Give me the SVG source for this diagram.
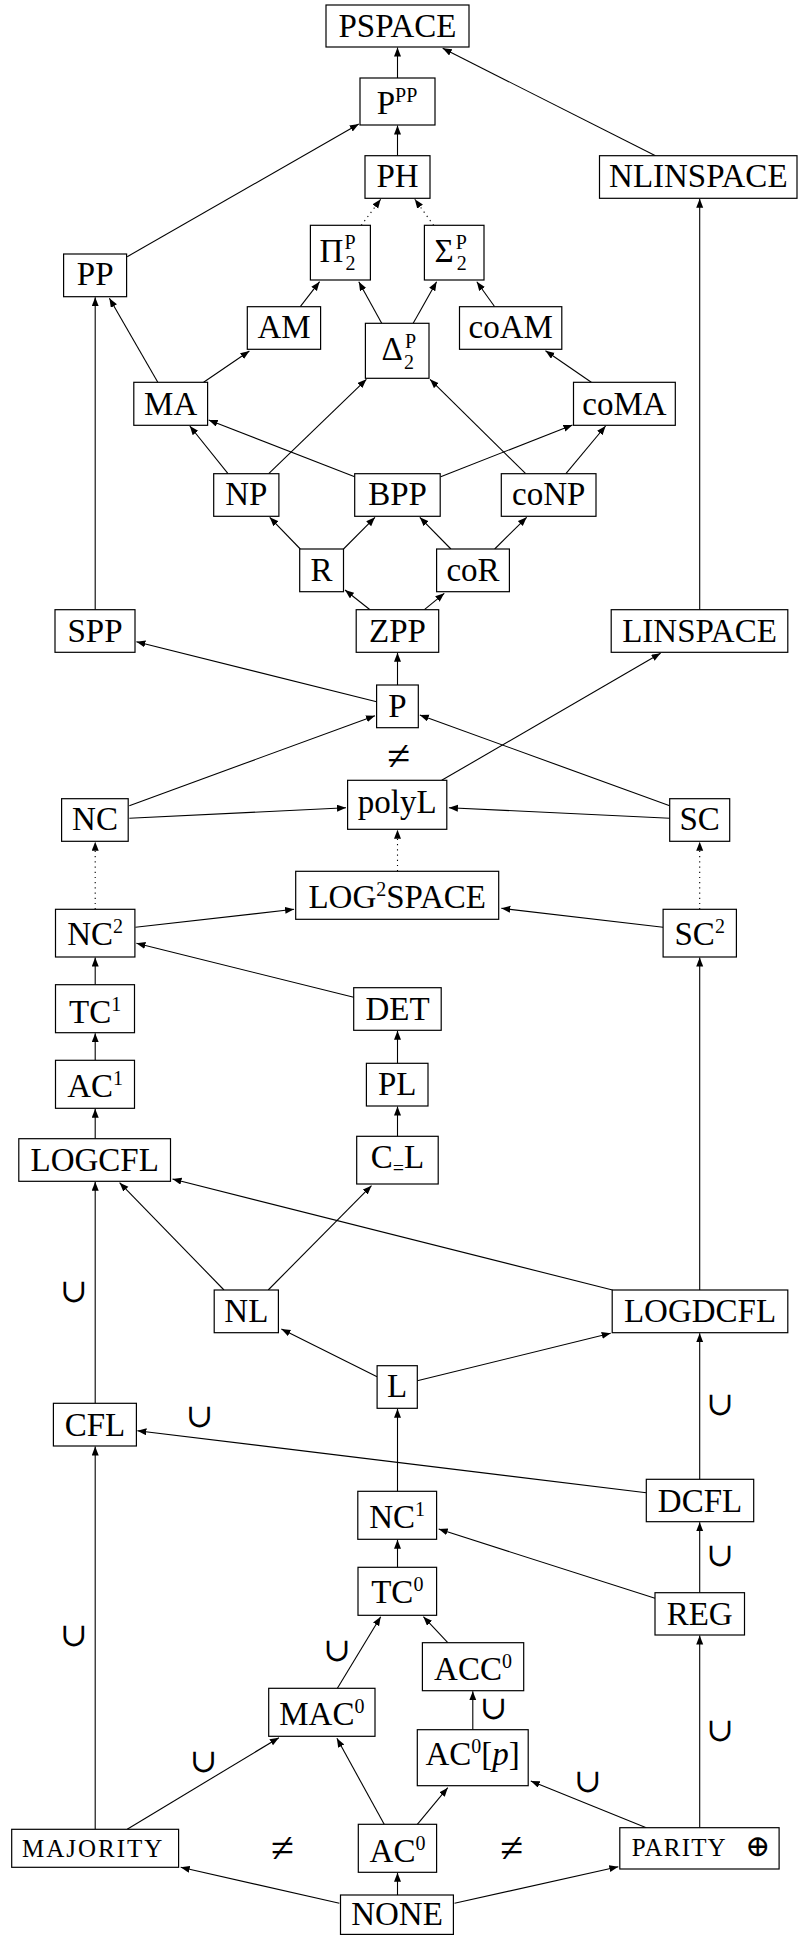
<svg xmlns="http://www.w3.org/2000/svg" width="798" height="1935" viewBox="0 0 798 1935">
<style>
.n rect{fill:#fff;stroke:#000;stroke-width:1.2}
text{font-family:"Liberation Serif","DejaVu Serif",serif;font-size:33px;fill:#000}
.t{text-anchor:middle}
.st{text-anchor:start}
.sup{font-size:20px}
.sc{font-size:25px}
.m{text-anchor:middle}
.ne{font-size:42px}
.cup{font-family:"DejaVu Serif",serif;font-size:33px}
.e line{stroke:#000;stroke-width:1.1;fill:none}
.e line.d{stroke-dasharray:1.2 4}
.e line.a{marker-end:url(#ah)}
</style>
<defs>
<marker id="ah" markerWidth="10" markerHeight="8" refX="9" refY="3.5" orient="auto" markerUnits="userSpaceOnUse"><path d="M0,0 L9,3.5 L0,7 z" fill="#000"/></marker>
</defs>
<g id="connectors" class="e">
<line class="a" x1="397.5" y1="78" x2="397.5" y2="47.5"/>
<line class="a" x1="655.5" y1="155.7" x2="442.7" y2="48.3"/>
<line class="a" x1="397.5" y1="155.7" x2="397.5" y2="125.5"/>
<line class="a" x1="127.2" y1="256.7" x2="358.8" y2="124"/>
<line class="a d" x1="361.3" y1="225.3" x2="380.7" y2="199.3"/>
<line class="a d" x1="433.6" y1="225.3" x2="414.8" y2="199.3"/>
<line class="a" x1="699.7" y1="609.7" x2="699.7" y2="198.8"/>
<line class="a" x1="95.2" y1="609.7" x2="95.2" y2="297.2"/>
<line class="a" x1="157.8" y1="382.3" x2="109.4" y2="298.3"/>
<line class="a" x1="300.3" y1="306.7" x2="319.6" y2="281.7"/>
<line class="a" x1="381.7" y1="323.3" x2="358.8" y2="281.7"/>
<line class="a" x1="413.2" y1="323.3" x2="436.6" y2="281.7"/>
<line class="a" x1="494.7" y1="306.7" x2="476.8" y2="281.7"/>
<line class="a" x1="203.6" y1="382.3" x2="249.4" y2="351"/>
<line class="a" x1="591.3" y1="382.3" x2="545.5" y2="350.7"/>
<line class="a" x1="228" y1="473.7" x2="189.8" y2="426"/>
<line class="a" x1="268.7" y1="473.7" x2="366.4" y2="379.3"/>
<line class="a" x1="354.7" y1="476.7" x2="208.7" y2="420"/>
<line class="a" x1="440.7" y1="476.7" x2="572.5" y2="425"/>
<line class="a" x1="525.7" y1="473.7" x2="430" y2="379.3"/>
<line class="a" x1="565.9" y1="473.7" x2="605.6" y2="426"/>
<line class="a" x1="300.3" y1="549" x2="269.7" y2="517.3"/>
<line class="a" x1="343.5" y1="549" x2="375" y2="517.3"/>
<line class="a" x1="450.9" y1="549" x2="419.8" y2="517.3"/>
<line class="a" x1="494.7" y1="549" x2="526.7" y2="517.3"/>
<line class="a" x1="370" y1="609.7" x2="345" y2="590"/>
<line class="a" x1="424.4" y1="609.7" x2="444.3" y2="593.3"/>
<line class="a" x1="397.5" y1="685" x2="397.5" y2="652.8"/>
<line class="a" x1="376.6" y1="701.7" x2="136.4" y2="641.7"/>
<line class="a" x1="441.7" y1="780.3" x2="660.6" y2="653.3"/>
<line class="a" x1="129.3" y1="805.7" x2="375" y2="715.7"/>
<line class="a" x1="669.7" y1="805.7" x2="419.8" y2="715"/>
<line class="a" x1="129.3" y1="818.3" x2="346" y2="807.7"/>
<line class="a" x1="669.7" y1="818.3" x2="448.9" y2="807.7"/>
<line class="a d" x1="397.5" y1="871.3" x2="397.5" y2="829.8"/>
<line class="a d" x1="95.2" y1="909.3" x2="95.2" y2="841.8"/>
<line class="a d" x1="699.7" y1="909.3" x2="699.7" y2="841.8"/>
<line class="a" x1="135.4" y1="927.3" x2="294.1" y2="909.3"/>
<line class="a" x1="663.1" y1="927.3" x2="501.3" y2="908.3"/>
<line class="a" x1="353.7" y1="997.3" x2="136.4" y2="943.3"/>
<line class="a" x1="95.2" y1="984.7" x2="95.2" y2="957.5"/>
<line class="a" x1="95.2" y1="1060.3" x2="95.2" y2="1033.2"/>
<line class="a" x1="95.2" y1="1138.7" x2="95.2" y2="1108.8"/>
<line class="a" x1="397.5" y1="1063.3" x2="397.5" y2="1030.8"/>
<line class="a" x1="397.5" y1="1136.3" x2="397.5" y2="1106.5"/>
<line class="a" x1="95.2" y1="1403.3" x2="95.2" y2="1181.8"/>
<line class="a" x1="224" y1="1290" x2="119.6" y2="1182.7"/>
<line class="a" x1="268.2" y1="1290" x2="371.5" y2="1185.7"/>
<line class="a" x1="612.5" y1="1290" x2="172.5" y2="1179"/>
<line class="a" x1="699.7" y1="1290" x2="699.7" y2="957.5"/>
<line class="a" x1="377.1" y1="1376.7" x2="281.4" y2="1329"/>
<line class="a" x1="417.3" y1="1380.7" x2="610.7" y2="1333.3"/>
<line class="a" x1="397.5" y1="1491.3" x2="397.5" y2="1408.8"/>
<line class="a" x1="646.3" y1="1492.7" x2="137.4" y2="1430.7"/>
<line class="a" x1="699.7" y1="1479.3" x2="699.7" y2="1333.2"/>
<line class="a" x1="397.5" y1="1567.3" x2="397.5" y2="1539.8"/>
<line class="a" x1="655" y1="1598.3" x2="438.7" y2="1529"/>
<line class="a" x1="699.7" y1="1592.7" x2="699.7" y2="1522.2"/>
<line class="a" x1="95.2" y1="1829.3" x2="95.2" y2="1446.5"/>
<line class="a" x1="337.4" y1="1688.3" x2="380.7" y2="1616.7"/>
<line class="a" x1="447.8" y1="1642.7" x2="423.4" y2="1616.7"/>
<line class="a" x1="472.8" y1="1729.7" x2="472.8" y2="1691.2"/>
<line class="a" x1="699.7" y1="1827.7" x2="699.7" y2="1635.5"/>
<line class="a" x1="127.2" y1="1829.3" x2="278.9" y2="1737.7"/>
<line class="a" x1="384.2" y1="1824.3" x2="336.9" y2="1738.3"/>
<line class="a" x1="417.3" y1="1824.3" x2="447.8" y2="1787.7"/>
<line class="a" x1="646.3" y1="1827.7" x2="530.8" y2="1781"/>
<line class="a" x1="339.4" y1="1903.3" x2="180.7" y2="1867.3"/>
<line class="a" x1="397.5" y1="1895" x2="397.5" y2="1872.8"/>
<line class="a" x1="454.5" y1="1903.3" x2="618.3" y2="1866.7"/>
</g>
<g id="PSPACE" class="n"><rect x="326" y="5" width="143" height="42"/><text class="t" x="397.5" y="37.3">PSPACE</text></g>
<g id="PPP" class="n"><rect x="360" y="78" width="75" height="47"/><text class="t" x="397" y="114.3">P<tspan class="sup" dy="-12.6">PP</tspan></text></g>
<g id="PH" class="n"><rect x="365" y="155.7" width="65" height="42.6"/><text class="t" x="397.5" y="187.3">PH</text></g>
<g id="NLINSPACE" class="n"><rect x="599.5" y="155.7" width="197.5" height="42.6"/><text class="t" x="698.3" y="187.3">NLINSPACE</text></g>
<g id="Pi2P" class="n"><rect x="310.4" y="225.3" width="60" height="54.7"/><text class="st"><tspan x="319.5" y="261.7">Π</tspan><tspan class="sup" x="344.5" y="249">P</tspan><tspan class="sup" x="345.5" y="270">2</tspan></text></g>
<g id="Sigma2P" class="n"><rect x="424.4" y="225.3" width="59.6" height="54.7"/><text class="st"><tspan x="434.5" y="261.7">Σ</tspan><tspan class="sup" x="455.7" y="249">P</tspan><tspan class="sup" x="456.7" y="270">2</tspan></text></g>
<g id="PP" class="n"><rect x="63.6" y="254" width="63" height="42.7"/><text class="t" x="95.2" y="285">PP</text></g>
<g id="AM" class="n"><rect x="247.3" y="306.7" width="73.3" height="42.6"/><text class="t" x="284" y="338.3">AM</text></g>
<g id="coAM" class="n"><rect x="459.5" y="306.7" width="102.3" height="42.6"/><text class="t" x="510.7" y="338.3">coAM</text></g>
<g id="Delta2P" class="n"><rect x="365.4" y="323.3" width="63.6" height="55"/><text class="st"><tspan x="381.5" y="360">Δ</tspan><tspan class="sup" x="405" y="347.5">P</tspan><tspan class="sup" x="404" y="368.5">2</tspan></text></g>
<g id="MA" class="n"><rect x="133.8" y="382.3" width="73.8" height="43"/><text class="t" x="170.7" y="415">MA</text></g>
<g id="coMA" class="n"><rect x="573.5" y="382.3" width="101.8" height="43"/><text class="t" x="624.4" y="415">coMA</text></g>
<g id="NP" class="n"><rect x="213.7" y="473.7" width="65.2" height="42.6"/><text class="t" x="246.3" y="505">NP</text></g>
<g id="BPP" class="n"><rect x="354.7" y="473.7" width="85.5" height="42.6"/><text class="t" x="397.5" y="505">BPP</text></g>
<g id="coNP" class="n"><rect x="501.3" y="473.7" width="94.7" height="42.6"/><text class="t" x="548.7" y="505">coNP</text></g>
<g id="R" class="n"><rect x="299.7" y="549" width="43.8" height="42.7"/><text class="t" x="321.6" y="580.7">R</text></g>
<g id="coR" class="n"><rect x="436.6" y="549" width="72.8" height="42.7"/><text class="t" x="473" y="580.7">coR</text></g>
<g id="SPP" class="n"><rect x="55" y="609.7" width="80" height="42.6"/><text class="t" x="95" y="641.7">SPP</text></g>
<g id="ZPP" class="n"><rect x="356.2" y="609.7" width="82.5" height="42.6"/><text class="t" x="397.5" y="641.7">ZPP</text></g>
<g id="LINSPACE" class="n"><rect x="611.2" y="609.7" width="176.6" height="42.6"/><text class="t" x="699.5" y="641.7">LINSPACE</text></g>
<g id="P" class="n"><rect x="376.6" y="685" width="41.7" height="42.7"/><text class="t" x="397.5" y="716.7">P</text></g>
<g id="polyL" class="n"><rect x="347.6" y="780.3" width="99.2" height="49"/><text class="t" x="397.2" y="813.3">polyL</text></g>
<g id="NC" class="n"><rect x="61.6" y="798.7" width="66.6" height="42.6"/><text class="t" x="95" y="830">NC</text></g>
<g id="SC" class="n"><rect x="669.7" y="798.7" width="60" height="42.6"/><text class="t" x="699.7" y="830">SC</text></g>
<g id="LOG2SPACE" class="n"><rect x="295.7" y="871.3" width="203" height="48"/><text class="t" x="397.2" y="907.5">LOG<tspan class="sup" dy="-12">2</tspan><tspan dy="12">SPACE</tspan></text></g>
<g id="NC2" class="n"><rect x="55.5" y="909.3" width="79.4" height="47.7"/><text class="t" x="95.2" y="945">NC<tspan class="sup" dy="-12">2</tspan></text></g>
<g id="SC2" class="n"><rect x="663.1" y="909.3" width="73.3" height="47.7"/><text class="t" x="699.7" y="945">SC<tspan class="sup" dy="-12">2</tspan></text></g>
<g id="TC1" class="n"><rect x="55.5" y="984.7" width="79" height="48"/><text class="t" x="95.2" y="1022.7">TC<tspan class="sup" dy="-12">1</tspan></text></g>
<g id="DET" class="n"><rect x="353.7" y="987.7" width="87.5" height="42.6"/><text class="t" x="397.5" y="1020">DET</text></g>
<g id="AC1" class="n"><rect x="55.5" y="1060.3" width="79" height="48"/><text class="t" x="95.2" y="1097.3">AC<tspan class="sup" dy="-12">1</tspan></text></g>
<g id="PL" class="n"><rect x="366.4" y="1063.3" width="61.6" height="42.7"/><text class="t" x="397.2" y="1095">PL</text></g>
<g id="LOGCFL" class="n"><rect x="18.8" y="1138.7" width="151.7" height="42.6"/><text class="t" x="94.7" y="1170.7">LOGCFL</text></g>
<g id="CeqL" class="n"><rect x="356.7" y="1136.3" width="81.5" height="47.7"/><text class="t" x="397.5" y="1168.3">C<tspan class="sup" dy="7">=</tspan><tspan dy="-7">L</tspan></text></g>
<g id="NL" class="n"><rect x="214.2" y="1290" width="64.2" height="42.7"/><text class="t" x="246.3" y="1321.7">NL</text></g>
<g id="LOGDCFL" class="n"><rect x="612.2" y="1290" width="175.6" height="42.7"/><text class="t" x="700" y="1321.7">LOGDCFL</text></g>
<g id="L" class="n"><rect x="377.1" y="1365.7" width="40.2" height="42.6"/><text class="t" x="397.2" y="1397.3">L</text></g>
<g id="CFL" class="n"><rect x="53.4" y="1403.3" width="83" height="42.7"/><text class="t" x="94.9" y="1435.7">CFL</text></g>
<g id="DCFL" class="n"><rect x="646.3" y="1479.3" width="107.4" height="42.4"/><text class="t" x="700" y="1511.7">DCFL</text></g>
<g id="NC1" class="n"><rect x="357.8" y="1491.3" width="78.8" height="48"/><text class="t" x="397.2" y="1528.3">NC<tspan class="sup" dy="-12">1</tspan></text></g>
<g id="TC0" class="n"><rect x="358" y="1567.3" width="78.6" height="48"/><text class="t" x="397.3" y="1603.3">TC<tspan class="sup" dy="-12">0</tspan></text></g>
<g id="REG" class="n"><rect x="655" y="1592.7" width="89.5" height="42.3"/><text class="t" x="699.7" y="1625">REG</text></g>
<g id="ACC0" class="n"><rect x="422.4" y="1642.7" width="101.3" height="48"/><text class="t" x="473" y="1680">ACC<tspan class="sup" dy="-12">0</tspan></text></g>
<g id="MAC0" class="n"><rect x="268.7" y="1688.3" width="106.3" height="48"/><text class="t" x="321.8" y="1725">MAC<tspan class="sup" dy="-12">0</tspan></text></g>
<g id="AC0p" class="n"><rect x="417.3" y="1729.7" width="110.9" height="56"/><text class="t" x="472.7" y="1765">AC<tspan class="sup" dy="-12">0</tspan><tspan dy="12">[</tspan><tspan font-style="italic">p</tspan>]</text></g>
<g id="MAJORITY" class="n"><rect x="11.7" y="1829.3" width="166.9" height="38"/><text class="st sc" x="22" y="1857" letter-spacing="2">MAJORITY</text></g>
<g id="AC0" class="n"><rect x="358.3" y="1824.3" width="78.3" height="48"/><text class="t" x="397.5" y="1861.7">AC<tspan class="sup" dy="-12">0</tspan></text></g>
<g id="PARITY" class="n"><rect x="619.8" y="1827.7" width="159.3" height="41.3"/><text class="st sc" x="631.7" y="1856" letter-spacing="1.2">PARITY<tspan x="735.5" font-family="DejaVu Serif" font-size="30" letter-spacing="0"> ⊕</tspan></text></g>
<g id="NONE" class="n"><rect x="340.5" y="1895" width="112.9" height="39.4"/><text class="t" x="397" y="1925">NONE</text></g>
<g id="labels">
<text class="m ne" x="398.5" y="770">≠</text>
<text class="m ne" x="282.4" y="1862">≠</text>
<text class="m ne" x="511.5" y="1862">≠</text>
<text class="m cup" x="73.8" y="1302">∪</text>
<text class="m cup" x="199.5" y="1427">∪</text>
<text class="m cup" x="720" y="1415">∪</text>
<text class="m cup" x="720" y="1566">∪</text>
<text class="m cup" x="73.8" y="1646">∪</text>
<text class="m cup" x="337" y="1661">∪</text>
<text class="m cup" x="493.6" y="1719">∪</text>
<text class="m cup" x="720" y="1741">∪</text>
<text class="m cup" x="203.6" y="1772">∪</text>
<text class="m cup" x="587.8" y="1792">∪</text>
</g>
</svg>
